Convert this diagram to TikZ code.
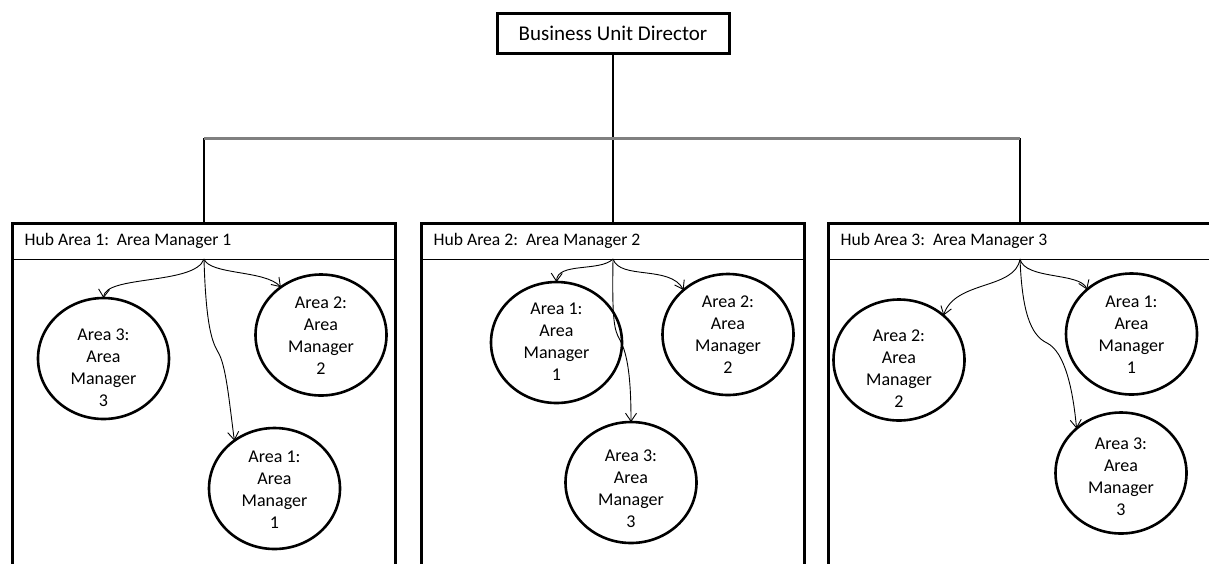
\documentclass[tikz,border=0pt]{standalone}
\usepackage{fontspec}
\setmainfont{Carlito}
\usetikzlibrary{shapes.geometric,arrows.meta}
\newcommand\arealabel[2]{\raisebox{#1}[\height][\depth]{\begin{tabular}{@{}c@{}}#2\end{tabular}}}
\begin{document}
\begin{tikzpicture}[x=1pt,y=-1pt,
  topbox/.style={draw,line width=3pt,minimum width=232pt,minimum height=40pt,inner sep=0pt,outer sep=0pt,font=\fontsize{21}{25}\selectfont},
  hubbox/.style={draw,line width=3pt,minimum width=383pt,minimum height=420pt,inner sep=0pt,outer sep=0pt,anchor=north west},
  hubtitle/.style={anchor=west,inner sep=0pt,font=\fontsize{17.6}{21}\selectfont},
  area/.style={draw,ellipse,line width=2.6pt,minimum width=131pt,minimum height=121pt,inner sep=-6pt,outer sep=0pt,font=\fontsize{18}{22}\selectfont},
  link/.style={line width=1.6pt},
  bus/.style={line width=3pt,color=gray},
  arr/.style={line width=0.9pt,-{Straight Barb[length=8pt,width=11pt]}},
  sep/.style={line width=1pt}
]
\useasboundingbox (0,0) rectangle (1209,563);
\clip (0,0) rectangle (1209,563);

% top
\node[topbox] (bud) at (613,33.5) {Business Unit Director};

% hubs
\node[hubbox] (hub1) at (12.5,223) {};
\node[hubbox] (hub2) at (421.5,223) {};
\node[hubbox] (hub3) at (828.5,223) {};

\node[hubtitle] (t1) at ([xshift=12pt,yshift=-18pt]hub1.north west) {Hub Area 1:\ \ Area Manager 1};
\node[hubtitle] (t2) at ([xshift=12pt,yshift=-18pt]hub2.north west) {Hub Area 2:\ \ Area Manager 2};
\node[hubtitle] (t3) at ([xshift=12pt,yshift=-18pt]hub3.north west) {Hub Area 3:\ \ Area Manager 3};

\foreach \h in {hub1,hub2,hub3}{
  \draw[sep] ([yshift=-36pt]\h.north west) -- ([yshift=-36pt]\h.north east);
}
\coordinate (b1) at ([yshift=-36pt]hub1.north);
\coordinate (b2) at ([yshift=-36pt]hub2.north);
\coordinate (b3) at ([yshift=-36pt]hub3.north);

% bus
\coordinate (busy) at (0,138);
\coordinate (busL) at (hub1.north |- busy);
\coordinate (busR) at (hub3.north |- busy);
\draw[link] (bud.south) -- (hub2.north);
\draw[link] (busL) -- (hub1.north);
\draw[link] (busR) -- (hub3.north);
\draw[bus] (busL) -- (busR);

% circles
\node[area] (c13) at (103.5,358.5) {\arealabel{-11pt}{Area 3:\\Area\\Manager\\3}};
\node[area] (c12) at (321,335) {\arealabel{-2pt}{Area 2:\\Area\\Manager\\2}};
\node[area] (c11) at (274.5,488.5) {\arealabel{-3pt}{Area 1:\\Area\\Manager\\1}};
\node[area] (c21) at (556.5,342.5) {\arealabel{-1pt}{Area 1:\\Area\\Manager\\1}};
\node[area] (c22) at (728,334.5) {\arealabel{-2pt}{Area 2:\\Area\\Manager\\2}};
\node[area] (c23) at (631,482.5) {\arealabel{-8pt}{Area 3:\\Area\\Manager\\3}};
\node[area] (c32) at (899,360) {\arealabel{-10pt}{Area 2:\\Area\\Manager\\2}};
\node[area] (c31) at (1131.5,334) {\arealabel{-2pt}{Area 1:\\Area\\Manager\\1}};
\node[area] (c33) at (1121,473) {\arealabel{-5pt}{Area 3:\\Area\\Manager\\3}};

% arrows
\coordinate (m1) at (218,352);
\coordinate (m2) at (620,340);
\coordinate (m3) at (1047,343);
\draw[arr] (b1) .. controls (195,285) and (105,275) .. (c13.north);
\draw[arr] (b1) .. controls (210,275) and (265,270) .. (c12.130);
\draw[arr] (b1) .. controls (206,330) and (213,343) .. (m1) .. controls (226,365) and (229,400) .. (c11.130);

\draw[arr] (b2) .. controls (600,272) and (557,262) .. (c21.north);
\draw[arr] (b2) .. controls (620,280) and (670,265) .. (c22.135);
\draw[arr] (b2) .. controls (612,320) and (614,330) .. (m2) .. controls (628,355) and (631,380) .. (c23.north);

\draw[arr] (b3) .. controls (1015,290) and (955,280) .. (c32.45);
\draw[arr] (b3) .. controls (1025,280) and (1080,272) .. (c31.135);
\draw[arr] (b3) .. controls (1022,310) and (1030,335) .. (m3) .. controls (1065,352) and (1073,390) .. (c33.135);
\end{tikzpicture}
\end{document}
